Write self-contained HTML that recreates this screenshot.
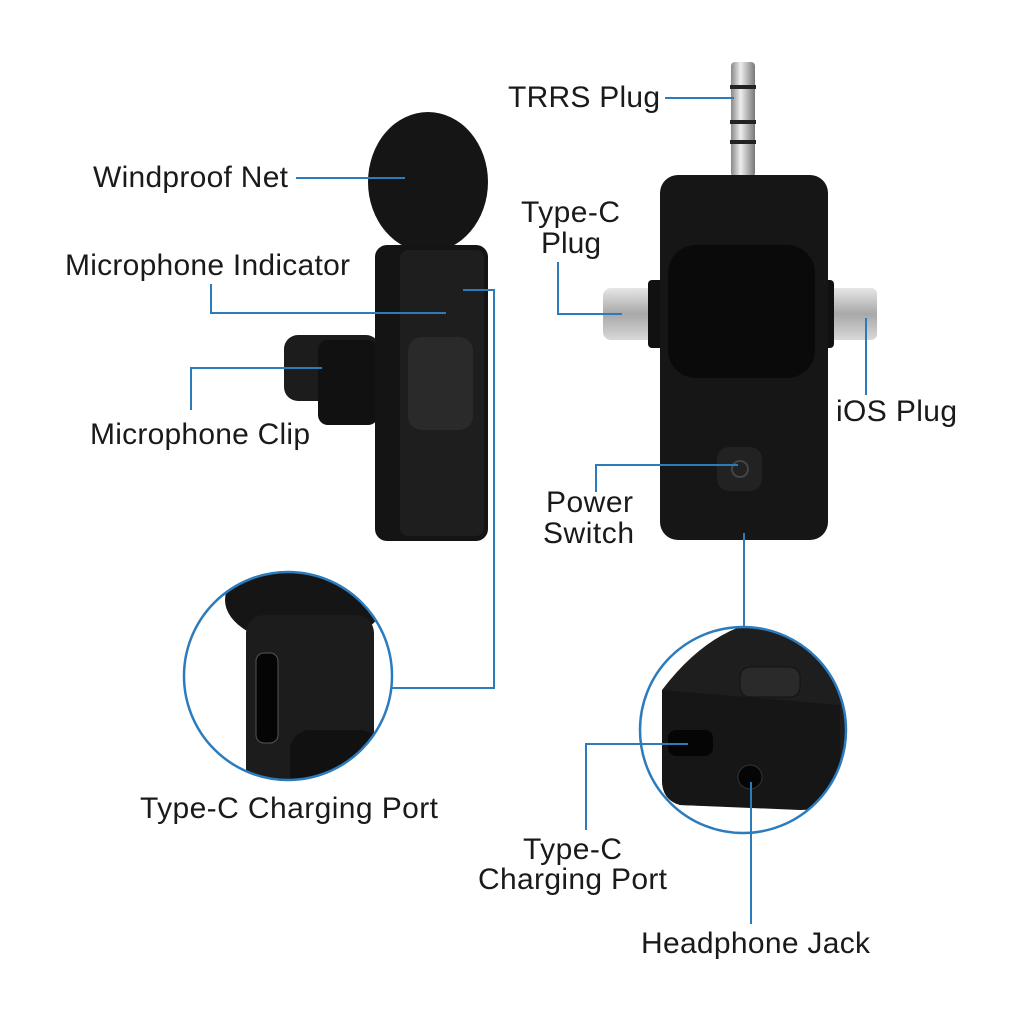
<!DOCTYPE html>
<html><head><style>
html,body{margin:0;padding:0;background:#fff;}
svg{display:block;}
text{font-family:"Liberation Sans",sans-serif;font-size:30px;fill:#1a1a1a;}
</style></head><body>
<svg width="1024" height="1024" viewBox="0 0 1024 1024" xmlns="http://www.w3.org/2000/svg">
<defs>
<linearGradient id="silver" x1="0" x2="0" y1="0" y2="1"><stop offset="0" stop-color="#e6e6e6"/><stop offset="0.5" stop-color="#a8a8a8"/><stop offset="1" stop-color="#d8d8d8"/></linearGradient>
<linearGradient id="silverh" x1="0" x2="1" y1="0" y2="0"><stop offset="0" stop-color="#888"/><stop offset="0.4" stop-color="#eee"/><stop offset="1" stop-color="#777"/></linearGradient>
<clipPath id="cl"><circle cx="288" cy="676" r="104"/></clipPath>
<clipPath id="cr"><circle cx="743" cy="730" r="103"/></clipPath>
</defs>
<!-- mic -->
<ellipse cx="428" cy="182" rx="60" ry="70" fill="#151515"/>
<rect x="284" y="335" width="96" height="66" rx="14" fill="#1c1c1c"/>
<rect x="318" y="340" width="60" height="85" rx="10" fill="#111"/>
<rect x="375" y="245" width="113" height="296" rx="12" fill="#141414"/>
<rect x="400" y="250" width="84" height="286" rx="8" fill="#1e1e1e"/>
<rect x="408" y="337" width="65" height="93" rx="14" fill="#2a2a2a"/>
<!-- receiver -->
<rect x="731" y="62" width="24" height="115" rx="4" fill="url(#silverh)"/>
<rect x="730" y="85" width="26" height="4" fill="#222"/>
<rect x="730" y="120" width="26" height="4" fill="#222"/>
<rect x="730" y="140" width="26" height="4" fill="#222"/>
<rect x="603" y="288" width="60" height="52" rx="8" fill="url(#silver)"/>
<rect x="815" y="288" width="62" height="52" rx="6" fill="url(#silver)"/>
<rect x="648" y="280" width="24" height="68" rx="4" fill="#111"/>
<rect x="810" y="280" width="24" height="68" rx="4" fill="#111"/>
<rect x="660" y="175" width="168" height="365" rx="18" fill="#161616"/>
<rect x="668" y="245" width="147" height="133" rx="28" fill="#0a0a0a"/>
<rect x="717" y="447" width="45" height="44" rx="12" fill="#222"/>
<circle cx="740" cy="469" r="8" fill="none" stroke="#444" stroke-width="2"/>
<!-- left circle -->
<g clip-path="url(#cl)">
<ellipse cx="305" cy="600" rx="80" ry="45" fill="#151515"/>
<rect x="246" y="615" width="128" height="200" rx="18" fill="#1c1c1c"/>
<rect x="256" y="653" width="22" height="90" rx="8" fill="#050505" stroke="#555" stroke-width="1"/>
<rect x="290" y="730" width="90" height="80" rx="20" fill="#111"/>
</g>
<circle cx="288" cy="676" r="104" fill="none" stroke="#2b7bbd" stroke-width="2.5"/>
<!-- right circle -->
<g clip-path="url(#cr)">
<path d="M662 690 Q700 640 745 625 L860 625 L860 770 Q850 810 820 810 L680 805 Q662 800 662 780 Z" fill="#1e1e1e"/>
<path d="M662 690 L840 705 L840 790 Q830 810 800 810 L680 805 Q662 800 662 780 Z" fill="#161616"/>
<rect x="740" y="667" width="60" height="30" rx="10" fill="#2a2a2a" stroke="#111"/>
<rect x="668" y="730" width="45" height="26" rx="8" fill="#050505"/>
<circle cx="750" cy="777" r="12" fill="#050505" stroke="#333"/>
</g>
<circle cx="743" cy="730" r="103" fill="none" stroke="#2b7bbd" stroke-width="2.5"/>
<!-- lines -->
<g stroke="#2b7bbd" stroke-width="2" fill="none">
<path d="M296 178 H405"/>
<path d="M211 284 V313 H446"/>
<path d="M191 410 V368 H322"/>
<path d="M463 290 H494 V688 H392"/>
<path d="M665 98 H734"/>
<path d="M558 262 V314 H622"/>
<path d="M866 318 V395"/>
<path d="M596 492 V465 H738"/>
<path d="M744 533 V628"/>
<path d="M586 830 V744 H688"/>
<path d="M751 782 V924"/>
</g>
<!-- labels -->
<text x="93" y="187" textLength="195">Windproof Net</text>
<text x="65" y="275" textLength="285">Microphone Indicator</text>
<text x="90" y="444" textLength="220">Microphone Clip</text>
<text x="140" y="818" textLength="298">Type-C Charging Port</text>
<text x="508" y="107" textLength="152">TRRS Plug</text>
<text x="521" y="222" textLength="99">Type-C</text>
<text x="541" y="253" textLength="60">Plug</text>
<text x="836" y="421" textLength="121">iOS Plug</text>
<text x="546" y="512" textLength="87">Power</text>
<text x="543" y="543" textLength="91">Switch</text>
<text x="523" y="859" textLength="99">Type-C</text>
<text x="478" y="889" textLength="189">Charging Port</text>
<text x="641" y="953" textLength="229">Headphone Jack</text>
</svg>
</body></html>
